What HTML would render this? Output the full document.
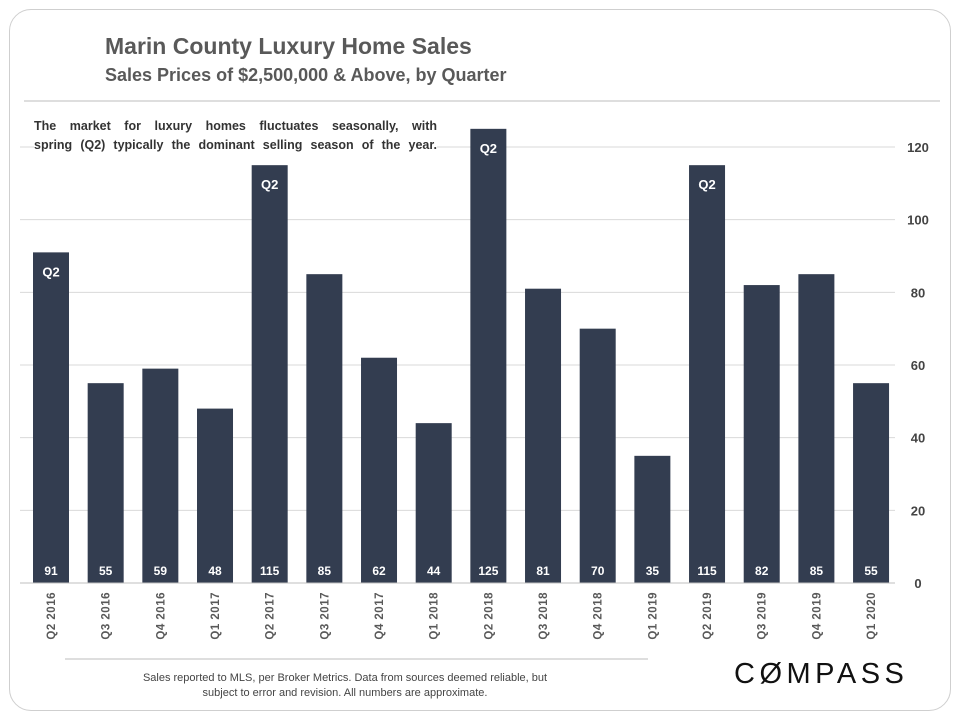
<!DOCTYPE html>
<html><head><meta charset="utf-8"><style>
body{margin:0;background:#fff;font-family:"Liberation Sans",sans-serif}
#wrap{position:relative;width:960px;height:720px;overflow:hidden}
.frame{position:absolute;left:9px;top:9px;width:940px;height:700px;border:1px solid #cfcfcf;border-radius:22px}
.t1{position:absolute;left:105px;top:33px;font-size:23px;font-weight:bold;color:#595959}
.t2{position:absolute;left:105px;top:65px;font-size:18px;font-weight:bold;color:#595959}
.note{position:absolute;left:34px;top:117px;width:403px;font-size:12.5px;font-weight:bold;color:#333;line-height:19px;background:#fff;z-index:2}
.note div{white-space:nowrap;text-align:justify;text-align-last:justify}
.foot{position:absolute;left:100px;top:671px;width:490px;text-align:center;font-size:11px;color:#444;line-height:15px;font-family:"Liberation Sans Narrow","Liberation Sans",sans-serif}
.logo{position:absolute;left:734px;top:658px;font-size:29px;letter-spacing:4.5px;color:#111}
svg{position:absolute;left:0;top:0}
</style></head><body>
<div id="wrap">
<div class="frame"></div>
<div class="t1">Marin County Luxury Home Sales</div>
<div class="t2">Sales Prices of $2,500,000 &amp; Above, by Quarter</div>
<svg width="960" height="720" id="chart">
<line x1="24" y1="101" x2="940" y2="101" stroke="#bdbdbd"/>
<line x1="65" y1="659" x2="648" y2="659" stroke="#bdbdbd"/>
<g id="g"></g>
</svg>
<div class="note"><div>The market for luxury homes fluctuates seasonally, with</div><div>spring (Q2) typically the dominant selling season of the year.</div></div>
<div class="foot">Sales reported to MLS, per Broker Metrics. Data from sources deemed reliable, but<br>subject to error and revision. All numbers are approximate.</div>
<div class="logo">CØMPASS</div>
</div>
<script>
const categories=["Q2 2016","Q3 2016","Q4 2016","Q1 2017","Q2 2017","Q3 2017","Q4 2017","Q1 2018","Q2 2018","Q3 2018","Q4 2018","Q1 2019","Q2 2019","Q3 2019","Q4 2019","Q1 2020"];
const values=[91,55,59,48,115,85,62,44,125,81,70,35,115,82,85,55];
const ticks=[0,20,40,60,80,100,120];
const ns="http://www.w3.org/2000/svg",g=document.getElementById('g');
const y0=583,k=(583-147)/120;
const y=v=>y0-v*k;
const x=i=>51+i*54.67;
function el(t,a,txt){const e=document.createElementNS(ns,t);for(const q in a)e.setAttribute(q,a[q]);if(txt!=null)e.textContent=txt;g.appendChild(e);return e;}
ticks.forEach(t=>{
 if(t>0){const l=el('line',{x1:20,x2:895,y1:y(t),y2:y(t),stroke:'#d9d9d9'});
 
 }
 const tx=el('text',{x:918,y:y(t)+5,'text-anchor':'middle','font-size':13,'font-weight':'bold',fill:'#444'},t);
 
 
});
values.forEach((v,i)=>{
 const r=el('rect',{x:x(i)-18,y:y(v),width:36,height:y0-y(v),fill:'#333d50'});
 
 
 const t=el('text',{x:x(i),y:575,'text-anchor':'middle','font-size':12,'font-weight':'bold',fill:'#fff'},v);
 
 
 if(categories[i].startsWith('Q2')){
  const q=el('text',{x:x(i),y:y(v)+24,'text-anchor':'middle','font-size':13,'font-weight':'bold',fill:'#fff'},'Q2');
  
  
 }
 const c=el('text',{transform:`translate(${x(i)+4},592) rotate(-90)`,'text-anchor':'end','font-size':11.5,'font-weight':'bold',fill:'#595959','letter-spacing':'0.5'},categories[i]);
 
 
});
const ax=el('line',{x1:20,x2:895,y1:y0,y2:y0,stroke:'#bfbfbf'});


</script>
</body></html>
